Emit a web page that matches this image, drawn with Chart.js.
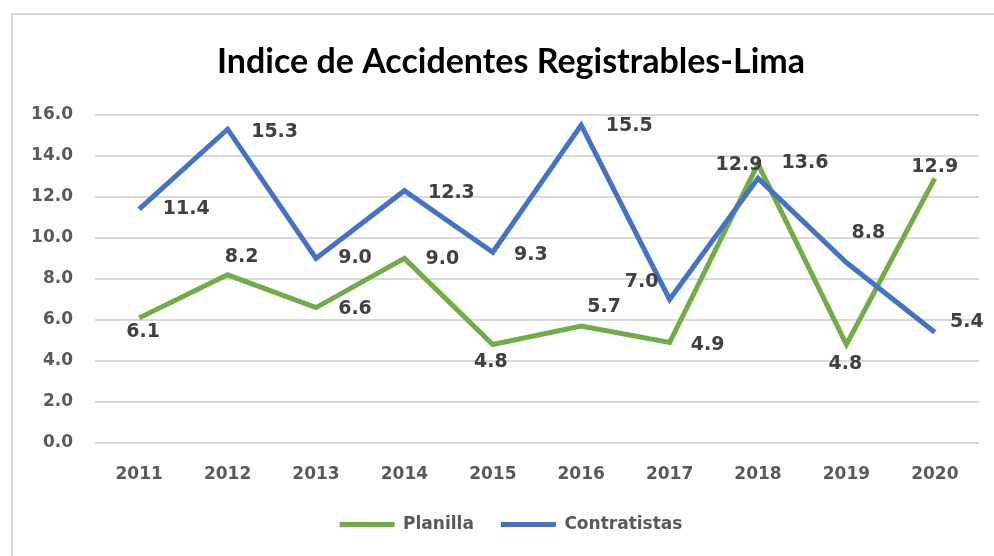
<!DOCTYPE html>
<html>
<head>
<meta charset="utf-8">
<script src="https://cdn.jsdelivr.net/npm/chart.js@4.4.1/dist/chart.umd.min.js"></script>
<style>
  html, body { margin: 0; padding: 0; background: #fff; }
  #wrap { position: relative; width: 994px; height: 556px; overflow: hidden; }
  #frame { position: absolute; left: 11px; top: 13px; right: -10px; bottom: -10px;
           border-top: 2px solid #d9d9d9; border-left: 2px solid #d9d9d9; }
  canvas { position: absolute; left: 0; top: 0; }
</style>
</head>
<body>
<div id="wrap">
  <div id="frame"></div>
  <canvas id="lineChart" width="994" height="556"></canvas>
</div>
<script>
// Datos
const years = ['2011', '2012', '2013', '2014', '2015', '2016', '2017', '2018', '2019', '2020'];
const planilla = [6.1, 8.2, 6.6, 9.0, 4.8, 5.7, 4.9, 13.6, 4.8, 12.9];
const contratistas = [11.4, 15.3, 9.0, 12.3, 9.3, 15.5, 7.0, 12.9, 8.8, 5.4];

// Posición de las etiquetas respecto al punto (solo estilo)
const planillaLabelOffsets = [[4, 14], [14, -18], [39, 1], [38, 1], [-2, 18], [23, -19], [38, 3], [47, -1], [-1, 20], [0, -11]];
const contratistasLabelOffsets = [[47, 0], [47, 3], [39, 0], [47, 2], [38, 3], [48, 1], [-28, -17], [-19, -13], [22, -29], [32, -10]];

const GREEN = '#70AD47';
const BLUE = '#4472C4';
const TXT = '#595959';
const NUM_FONT = 'DejaVu Sans';

// Plugin sencillo para las etiquetas de datos
const valueLabels = {
    id: 'valueLabels',
    afterDatasetsDraw(chart) {
        const ctx = chart.ctx;
        ctx.save();
        ctx.font = 'bold 19px "' + NUM_FONT + '"';
        ctx.fillStyle = '#404040';
        ctx.textAlign = 'center';
        ctx.textBaseline = 'middle';
        chart.data.datasets.forEach((ds, i) => {
            const meta = chart.getDatasetMeta(i);
            meta.data.forEach((pt, j) => {
                const off = ds.labelOffsets[j];
                ctx.fillText(ds.data[j].toFixed(1), pt.x + off[0], pt.y + off[1]);
            });
        });
        ctx.restore();
    }
};

new Chart(document.getElementById('lineChart'), {
    type: 'line',
    data: {
        labels: years,
        datasets: [{
            label: 'Planilla',
            data: planilla,
            labelOffsets: planillaLabelOffsets,
            borderColor: GREEN,
            backgroundColor: GREEN,
            borderWidth: 5,
            pointRadius: 0,
            tension: 0,
            order: 1
        }, {
            label: 'Contratistas',
            data: contratistas,
            labelOffsets: contratistasLabelOffsets,
            borderColor: BLUE,
            backgroundColor: BLUE,
            borderWidth: 5,
            pointRadius: 0,
            tension: 0,
            order: 0
        }]
    },
    plugins: [valueLabels],
    options: {
        responsive: false,
        animation: false,
        layout: { padding: { left: 43, right: 15, top: 0, bottom: 13 } },
        scales: {
            x: {
                offset: true,
                grid: { display: false },
                border: { display: false },
                ticks: { color: TXT, padding: 13, font: { family: NUM_FONT, weight: 'bold', size: 17 } },
                afterFit: (scale) => { scale.height = 46; }
            },
            y: {
                min: 0,
                max: 16,
                ticks: {
                    stepSize: 2,
                    color: TXT,
                    padding: 22,
                    font: { family: NUM_FONT, weight: 'bold', size: 17 },
                    callback: (v) => v.toFixed(1)
                },
                grid: { color: '#d9d9d9', lineWidth: 2, drawTicks: false },
                border: { display: false },
                afterFit: (scale) => {
                    scale.width = 52;
                    // las etiquetas salen del recuadro del eje, no recortar
                    scale._computeLabelArea = () => undefined;
                }
            }
        },
        plugins: {
            title: {
                display: true,
                text: 'Indice de Accidentes Registrables-Lima',
                color: '#000',
                font: { family: 'Lato', weight: 'bold', size: 34 },
                padding: { top: 42, bottom: 32 }
            },
            legend: {
                position: 'bottom',
                labels: {
                    color: TXT,
                    boxWidth: 55,
                    boxHeight: 5,
                    padding: 27,
                    font: { family: NUM_FONT, weight: 'bold', size: 17 },
                    sort: (a, b) => a.datasetIndex - b.datasetIndex,
                    generateLabels: (chart) => Chart.defaults.plugins.legend.labels.generateLabels(chart)
                        .map((l) => Object.assign(l, { lineWidth: 0 }))
                }
            },
            tooltip: { enabled: false }
        }
    }
});
</script>
</body>
</html>
